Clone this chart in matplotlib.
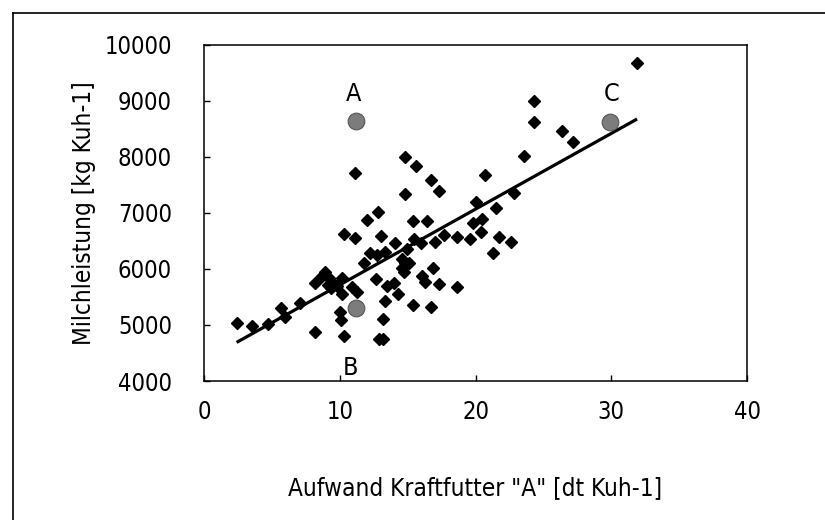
import numpy as np
import matplotlib
matplotlib.use("Agg")
from matplotlib import pyplot as plt
from matplotlib.lines import Line2D

# concentrate input per cow [dt] and milk yield [kg]
kraftfutter = [2.4, 3.5, 4.7, 5.7, 6.0, 7.1, 8.2,
               8.2, 8.6, 8.9, 9.2, 9.1, 9.4, 9.35, 9.8, 10.2, 10.2, 10.9, 11.3,
               10.0, 10.1, 10.3,
               10.3, 11.1, 11.1, 12.0, 12.8, 13.0, 11.8, 12.25, 12.75, 13.35,
               12.7, 13.5, 14.0, 14.3, 13.35, 13.2, 12.9, 13.2,
               14.1, 14.95, 15.45, 15.95, 14.6, 14.8, 15.1, 14.6, 14.75,
               15.4, 16.05, 16.3, 16.9, 17.3, 16.7, 17.05, 17.7, 18.6, 18.6,
               19.6, 15.4, 16.4, 14.8, 15.6, 16.7, 17.3, 14.8,
               20.7, 20.0, 20.5, 19.8, 21.5, 20.4, 21.7, 22.6, 21.3, 22.8,
               23.6, 24.3, 24.3, 26.4, 27.2, 31.9]
milch = [5040, 4990, 5020, 5310, 5150, 5400, 4870,
         5745, 5850, 5950, 5835, 5715, 5775, 5655, 5700, 5835, 5550, 5675, 5585,
         5240, 5090, 4800,
         6620, 6560, 7710, 6875, 7025, 6595, 6100, 6290, 6250, 6310,
         5815, 5695, 5755, 5550, 5420, 5105, 4745, 4745,
         6470, 6350, 6530, 6460, 6170, 6100, 6100, 6010, 5950,
         5355, 5875, 5775, 6025, 5730, 5315, 6475, 6605, 6565, 5675,
         6530, 6860, 6860, 8000, 7840, 7590, 7400, 7340,
         7680, 7195, 6890, 6820, 7095, 6665, 6565, 6490, 6280, 7350,
         8020, 9000, 8630, 8470, 8275, 9670]

# highlighted farms
punkt_x = [11.2, 11.2, 29.9]
punkt_y = [8650, 5300, 8630]
punkt_namen = ["A", "B", "C"]

# linear regression
achsenabschnitt = 4365
steigung = 135.2

xticks = [0, 10, 20, 30, 40]
yticks = [4000, 5000, 6000, 7000, 8000, 9000, 10000]

plt.rcParams["font.family"] = ["Liberation Sans Narrow", "DejaVu Sans"]
plt.rcParams["font.stretch"] = "condensed"

fig = plt.figure(figsize=(8.25, 5.2), dpi=100)
ax = fig.add_axes([0.2473, 0.2673, 0.6582, 0.6462])

ax.plot(kraftfutter, milch, linestyle="none", marker="D", markersize=5.8,
        color="black", zorder=3)

fx = np.array([min(kraftfutter), max(kraftfutter)])
ax.plot(fx, achsenabschnitt + steigung * fx, color="black", linewidth=2.3,
        solid_capstyle="butt", zorder=2)

ax.plot(punkt_x, punkt_y, linestyle="none", marker="o", markersize=12,
        markerfacecolor="#7c7c7c", markeredgecolor="#555555",
        markeredgewidth=0.8, zorder=4)

# letters above A and C, below B
versatz = {"A": (-2, 19), "B": (-4, -43), "C": (1, 20)}
for name, x, y in zip(punkt_namen, punkt_x, punkt_y):
    dx, dy = versatz[name]
    ax.annotate(name, (x, y), xytext=(dx, dy), textcoords="offset points",
                ha="center", va="center", fontsize=18)

ax.set_xlim(0, 40)
ax.set_ylim(4000, 10000)
ax.set_xticks(xticks)
ax.set_yticks(yticks)
ax.tick_params(direction="in", length=4, width=1, labelsize=17)
ax.tick_params(axis="x", pad=14)
ax.tick_params(axis="y", pad=23)
for s in ax.spines.values():
    s.set_linewidth(1.1)

ax.set_xlabel('Aufwand Kraftfutter "A" [dt Kuh-1]', fontsize=17.5, labelpad=37)
ax.set_ylabel("Milchleistung [kg Kuh-1]", fontsize=17.5, labelpad=6)

# outer frame (left and top edge only)
fig.add_artist(Line2D([0.016, 0.016], [0.0, 0.975], color="black", linewidth=1.2))
fig.add_artist(Line2D([0.016, 1.0], [0.975, 0.975], color="black", linewidth=1.2))

fig.savefig("out.png", dpi=100, facecolor="white")
